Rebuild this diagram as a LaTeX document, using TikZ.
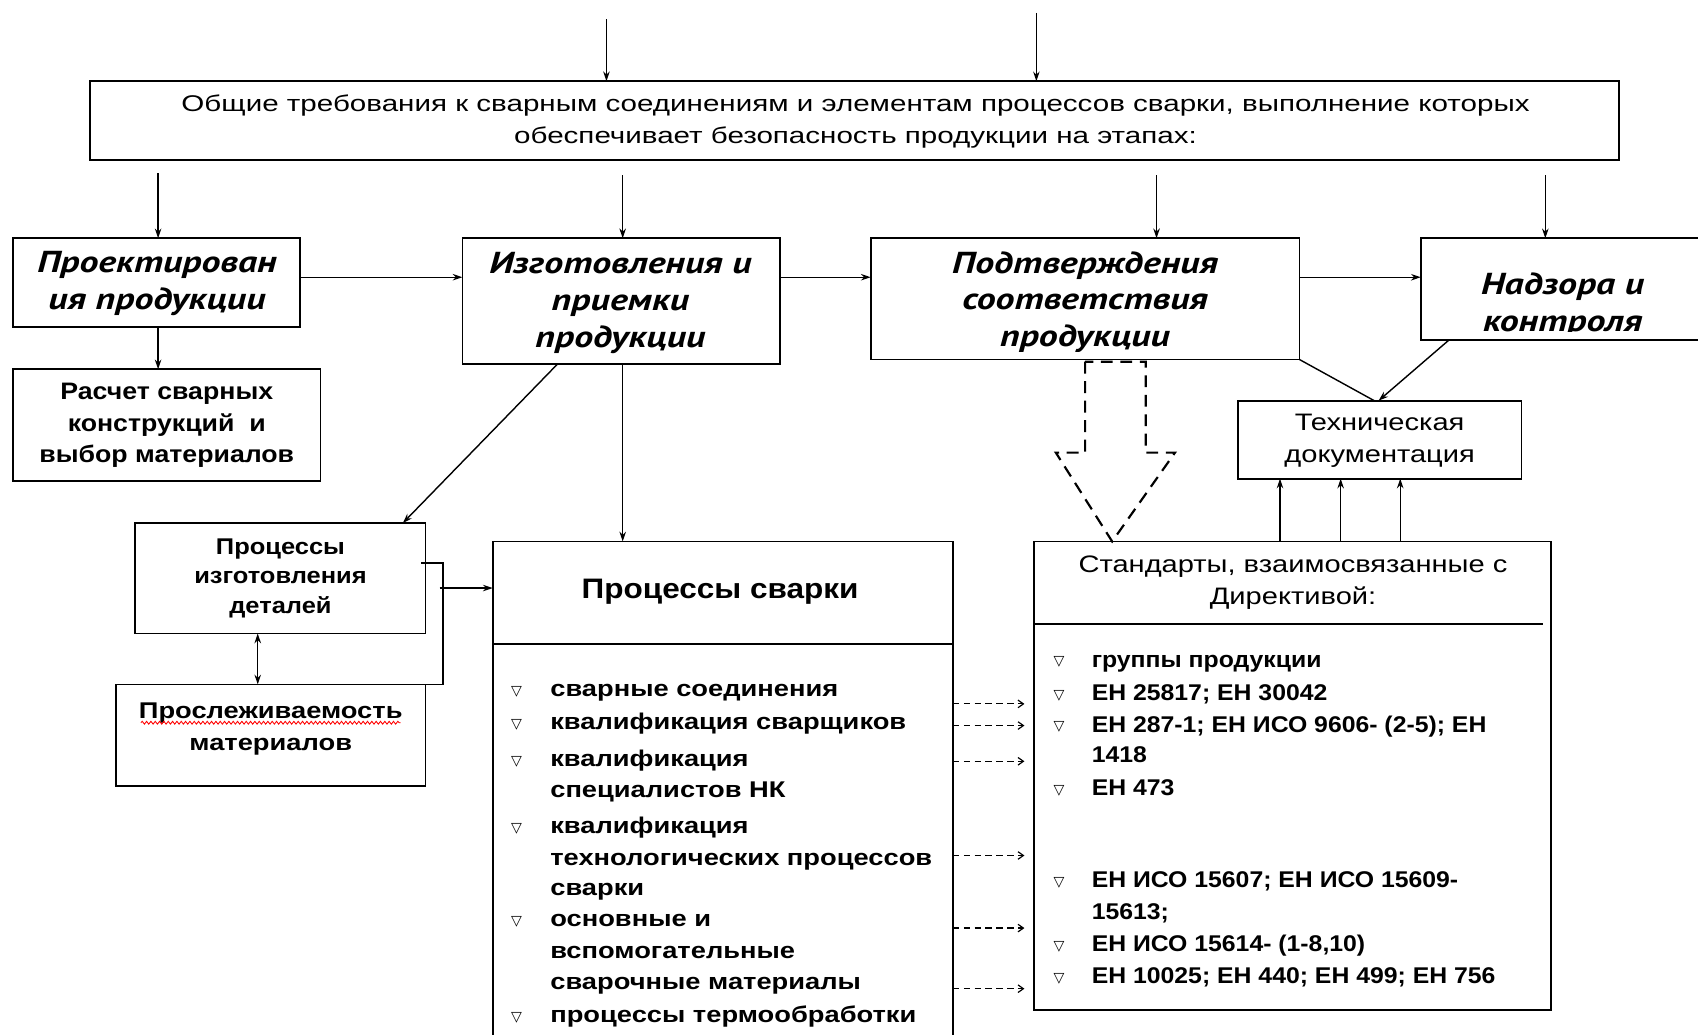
\documentclass[tikz,border=0pt]{standalone}
\usepackage{fontspec}
\setmainfont{Liberation Sans}
\newfontfamily\ftitle{Liberation Sans}[FakeStretch=1.3]
\newfontfamily\fstage{PT Sans}[FakeStretch=1.25]
\newfontfamily\fbody{Liberation Sans}[FakeStretch=1.12]
\newfontfamily\fwide{Liberation Sans}[FakeStretch=1.2]
\newfontfamily\fhead{Liberation Sans}[FakeStretch=1.22]
\newfontfamily\fstd{Liberation Sans}[FakeStretch=1.09]
\newfontfamily\fsym{DejaVu Sans}
\usetikzlibrary{arrows.meta,calc,decorations.pathmorphing}
\begin{document}
\begin{tikzpicture}[x=1pt,y=-1pt,
  box/.style={draw, line width=1.6pt, inner sep=0pt, outer sep=0pt, anchor=north west},
  arr/.style={-{Stealth[length=9pt,width=6pt]}, line width=1.3pt},
  dblarr/.style={{Stealth[length=9pt,width=6pt]}-{Stealth[length=9pt,width=6pt]}, line width=1.3pt},
  ln/.style={line width=1.3pt},
  dsharr/.style={dash pattern=on 6pt off 4pt, line width=1.1pt, -{Straight Barb[length=5pt,width=7pt]}},
  bigdsh/.style={dash pattern=on 11pt off 7pt, line width=2pt},
  ttl/.style={font=\ftitle\fontsize{21}{30}\selectfont, align=center, inner sep=0pt},
  stg/.style={font=\fstage\bfseries\itshape\fontsize{28}{34}\selectfont, align=center, inner sep=0pt},
  bx/.style={font=\fbody\bfseries\fontsize{22}{29}\selectfont, align=center, inner sep=0pt},
  bxr/.style={font=\fbody\fontsize{21}{30}\selectfont, align=center, inner sep=0pt},
  wtl/.style={font=\fbody\bfseries\fontsize{26}{30}\selectfont, inner sep=0pt},
  witem/.style={font=\fwide\bfseries\fontsize{21}{29}\selectfont, inner sep=0pt, anchor=base west},
  sitem/.style={font=\fstd\bfseries\fontsize{21}{29}\selectfont, inner sep=0pt, anchor=base west},
  bul/.style={font=\fsym\fontsize{13}{14}\selectfont, inner sep=0pt, anchor=base}
]
\useasboundingbox (0,0) rectangle (1568,955);
\fill[white] (0,0) rectangle (1568,955);
\begin{scope}
\clip (0,0) rectangle (1568,955);

% ---------- boxes ----------
\node[box, minimum width=1412pt, minimum height=73pt] (T) at (83,75) {};
\node[box, minimum width=265pt, minimum height=82pt] (P) at (12,220) {};
\node[box, minimum width=293pt, minimum height=116pt] (I) at (427,220) {};
\node[box, minimum width=396pt, minimum height=112pt] (C) at (804,220) {};
\node[box, minimum width=290pt, minimum height=94pt] (N) at (1312,220) {};
\node[box, minimum width=284pt, minimum height=103pt] (R) at (12,341) {};
\node[box, minimum width=268pt, minimum height=102pt] (D) at (125,483) {};
\node[box, minimum width=286pt, minimum height=94pt] (TR) at (107,632) {};
\node[box, minimum width=425pt, minimum height=500pt] (W) at (455,500) {};
\node[box, minimum width=477pt, minimum height=433pt] (S) at (955,500) {};
\node[box, minimum width=262pt, minimum height=72pt] (TD) at (1143,370) {};

% separators
\draw[line width=1.6pt] ($(W.north west)+(0,95)$) -- ($(W.north east)+(0,95)$);
\draw[line width=2pt] ($(S.north west)+(0,76)$) -- ($(S.north east)+(-7,76)$);

% ---------- texts ----------
\node[ttl] (Tt) at (790,112) {Общие требования к сварным соединениям и элементам процессов сварки, выполнение которых\\обеспечивает безопасность продукции на этапах:};
\node[stg] (Pt) at (145,262) {Проектирован\\ия продукции};
\node[stg] (It) at (573,280) {Изготовления и\\приемки\\продукции};
\begin{scope}
\clip (804,220) rectangle (1200,325);
\node[stg] (Ct) at (1002,279) {Подтверждения\\соответствия\\продукции};
\end{scope}
\begin{scope}
\clip (1312,220) rectangle (1600,306);
\node[stg] (Nt) at (1443,282) {Надзора и\\контроля};
\end{scope}
\node[bx] (Rt) at (154,393) {Расчет сварных\\конструкций\ \ и\\выбор материалов};
\node[bxr, font=\fbody\bfseries\fontsize{21}{27.5}\selectfont] (Dt) at (259,534) {Процессы\\изготовления\\деталей};
\node[bxr, font=\fwide\bfseries\fontsize{21}{30}\selectfont] (TRt) at (250,673) {Прослеживаемость\\материалов};
\draw[red, line width=0.8pt, decorate, decoration={snake, amplitude=1.3pt, segment length=4pt}] ($(TRt.north west)+(2,19)$) -- ($(TRt.north east)+(-2,19)$);
\node[bxr, font=\fhead\fontsize{22}{30}\selectfont] (TDt) at (1274,407) {Техническая\\документация};
\node[bxr, font=\fhead\fontsize{22}{29}\selectfont] (St) at (1194,538) {Стандарты, взаимосвязанные с\\Директивой:};
\node[wtl] (Wt) at (665,546) {Процессы сварки};

% W list
\node[witem] (w1) at (508,643) {сварные соединения};
\node[witem] (w2) at (508,674) {квалификация сварщиков};
\node[witem] (w3a) at (508,708) {квалификация};
\node[witem] (w3b) at (508,736) {специалистов НК};
\node[witem] (w4a) at (508,770) {квалификация};
\node[witem] (w4b) at (508,799) {технологических процессов};
\node[witem] (w4c) at (508,827) {сварки};
\node[witem] (w5a) at (508,856) {основные и};
\node[witem] (w5b) at (508,885) {вспомогательные};
\node[witem] (w5c) at (508,914) {сварочные материалы};
\node[witem] (w6) at (508,944) {процессы термообработки};
\foreach \yy/\nm in {642/wb1,673/wb2,707/wb3,769/wb4,855/wb5,943/wb6}
  \node[bul] (\nm) at (477,\yy) {▽};

% S list
\node[sitem] (s1) at (1008,616) {группы продукции};
\node[sitem] (s2) at (1008,647) {ЕН 25817; ЕН 30042};
\node[sitem] (s3a) at (1008,676) {ЕН 287-1; ЕН ИСО 9606- (2-5); ЕН};
\node[sitem] (s3b) at (1008,704) {1418};
\node[sitem] (s4) at (1008,735) {ЕН 473};
\node[sitem] (s5a) at (1008,820) {ЕН ИСО 15607; ЕН ИСО 15609-};
\node[sitem] (s5b) at (1008,849) {15613;};
\node[sitem] (s6) at (1008,879) {ЕН ИСО 15614- (1-8,10)};
\node[sitem] (s7) at (1008,908) {ЕН 10025; ЕН 440; ЕН 499; ЕН 756};
\foreach \yy/\nm in {615/sb1,646/sb2,675/sb3,734/sb4,819/sb5,878/sb6,907/sb7}
  \node[bul] (\nm) at (978,\yy) {▽};

% ---------- connectors ----------
\coordinate (a1) at (560,18);
\coordinate (a2) at (957,12);
\draw[arr] (a1) -- (a1 |- T.north);
\draw[arr] (a2) -- (a2 |- T.north);

\coordinate (b1) at (146,160);
\coordinate (b2) at (575,162);
\coordinate (b3) at (1068,162);
\coordinate (b4) at (1427,162);
\draw[arr] (b1) -- (b1 |- P.north);
\draw[arr] (b2) -- (b2 |- I.north);
\draw[arr] (b3) -- (b3 |- C.north);
\draw[arr] (b4) -- (b4 |- N.north);

\coordinate (h1) at ($(P.north east)+(0,36)$);
\draw[arr] (h1) -- (h1 -| I.west);
\coordinate (h2) at ($(I.north east)+(0,36)$);
\draw[arr] (h2) -- (h2 -| C.west);
\coordinate (h3) at ($(C.north east)+(0,36)$);
\draw[arr] (h3) -- (h3 -| N.west);

\coordinate (pr) at ($(P.south west)+(134,0)$);
\draw[arr] (pr) -- (pr |- R.north);

\draw[arr] ($(I.south west)+(88,0)$) -- ($(D.north east)+(-21,0)$);
\coordinate (iw) at ($(I.south west)+(148,0)$);
\draw[arr] (iw) -- (iw |- W.north);

\coordinate (dt) at ($(D.south west)+(113,0)$);
\draw[dblarr] (dt) -- (dt |- TR.north);

\coordinate (k1) at ($(D.north east)+(-4,37)$);
\coordinate (k2) at ($(D.north east)+(16,37)$);
\coordinate (k3) at ($(TR.north east)+(16,0)$);
\coordinate (k4) at ($(TR.north east)+(-4,0)$);
\draw[ln] (k1) -- (k2) -- (k3) -- (k4);
\coordinate (k5) at ($(D.north east)+(13,60)$);
\draw[arr] (k5) -- (k5 -| W.west);

\foreach \yy/\nm in {650/d1,670/d2,703/d3,790/d4,857/d5,913/d6}{
  \coordinate (\nm) at (880,\yy);
  \draw[dsharr] (\nm) -- ($(\nm -| S.west)+(-9,0)$);
}

\coordinate (u1) at ($(S.north west)+(227,0)$);
\coordinate (u2) at ($(S.north west)+(283,0)$);
\coordinate (u3) at ($(S.north west)+(338,0)$);
\draw[arr] (u1) -- (u1 |- TD.south);
\draw[arr] (u2) -- (u2 |- TD.south);
\draw[arr] (u3) -- (u3 |- TD.south);

\draw[ln] (C.south east) -- ($(TD.north)+(-5,0)$);
\draw[arr] ($(N.south west)+(26,0)$) -- ($(TD.north)+(-1,0)$);

% big dashed hollow arrow
\draw[bigdsh] (1002,334) -- (1002,418) -- (975,418) -- (1027,500) -- (1085,418) -- (1058,418) -- (1058,334) -- cycle;

\end{scope}
\end{tikzpicture}
\end{document}
